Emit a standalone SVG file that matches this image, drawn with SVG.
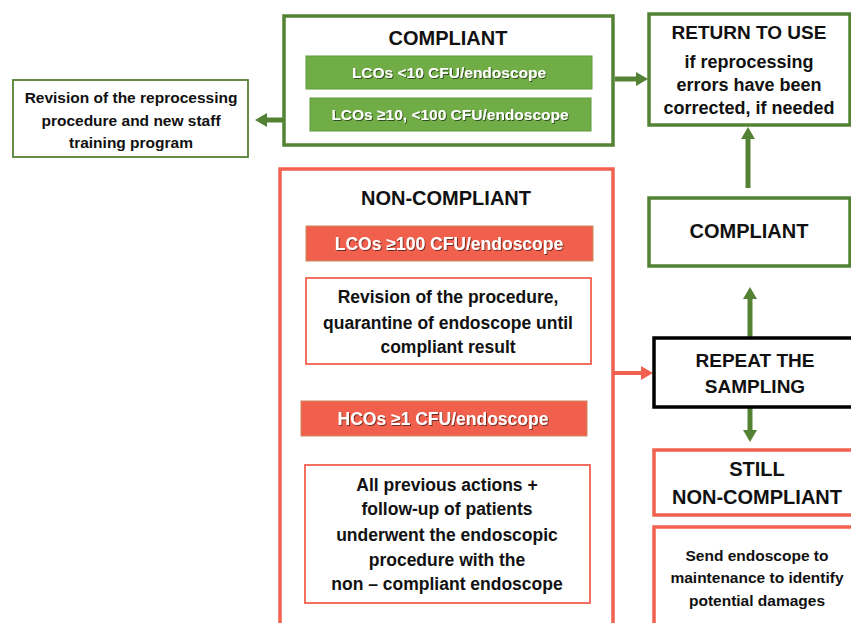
<svg xmlns="http://www.w3.org/2000/svg" width="851" height="623" viewBox="0 0 851 623">
<style>
text{font-family:"Liberation Sans",Arial,sans-serif;font-weight:bold;text-anchor:middle;fill:#111}
.gbox{fill:#fff;stroke:#548235;stroke-width:3.5}
.rbox{fill:#fff;stroke:#F26150;stroke-width:3.5}
.rthin{fill:#fff;stroke:#F26150;stroke-width:1.8}
.kbox{fill:#fff;stroke:#000;stroke-width:3.5}
.gbar{fill:#70AD47;stroke:#5E9A3A;stroke-width:1}
.rbar{fill:#F0604D;stroke:#C98A5E;stroke-width:1}
.wt{fill:#fff;filter:url(#sh)}
.t20{font-size:20px}
.t19{font-size:19px}
.t18{font-size:18px}
.t17{font-size:17.5px}
.t15{font-size:15.5px}
.ga{stroke:#548235;stroke-width:5;fill:none;marker-end:url(#ag)}
.ra{stroke:#F26150;stroke-width:4;fill:none;marker-end:url(#ar)}
</style>
<defs>
<filter id="sh" x="-10%" y="-30%" width="120%" height="160%"><feDropShadow dx="1" dy="1" stdDeviation="0.7" flood-color="#000" flood-opacity="0.55"/></filter>
<marker id="ag" markerUnits="userSpaceOnUse" viewBox="0 0 12 14" markerWidth="12" markerHeight="14" refX="1" refY="7" orient="auto"><path d="M0,0 L12,7 L0,14 z" fill="#548235"/></marker>
<marker id="ar" markerUnits="userSpaceOnUse" viewBox="0 0 12 14" markerWidth="12" markerHeight="14" refX="1" refY="7" orient="auto"><path d="M0,0 L12,7 L0,14 z" fill="#F26150"/></marker>
</defs>
<rect width="851" height="623" fill="#fff"/>

<g id="connectors">
<line class="ga" x1="615" y1="79" x2="637" y2="79"/>
<line class="ga" x1="308" y1="120" x2="266" y2="120"/>
<line class="ga" x1="748" y1="188" x2="748" y2="138"/>
<line class="ga" x1="750" y1="337" x2="750" y2="298"/>
<line class="ga" x1="750" y1="407" x2="750" y2="431"/>
<line class="ra" x1="613" y1="373" x2="642" y2="373"/>
</g>

<g id="compliant-top">
<rect class="gbox" x="284" y="16" width="329" height="129"/>
<text class="t20" x="448" y="45">COMPLIANT</text>
</g>
<g id="lcos-lt10">
<rect class="gbar" x="306" y="56" width="286" height="33"/>
<text class="t15 wt" x="449" y="78">LCOs &lt;10 CFU/endoscope</text>
</g>
<g id="lcos-10-100">
<rect class="gbar" x="310" y="98" width="281" height="33"/>
<text class="t15 wt" x="450" y="120">LCOs ≥10, &lt;100 CFU/endoscope</text>
</g>

<g id="revision-staff">
<rect x="13" y="80" width="235" height="77" fill="#fff" stroke="#548235" stroke-width="1.8"/>
<text class="t15" x="131" y="103">Revision of the reprocessing</text>
<text class="t15" x="131" y="126">procedure and new staff</text>
<text class="t15" x="131" y="148">training program</text>
</g>

<g id="return-to-use">
<rect class="gbox" x="649" y="14" width="201" height="111"/>
<text class="t19" x="749" y="39">RETURN TO USE</text>
<text class="t18" x="749" y="68">if reprocessing</text>
<text class="t18" x="749" y="91">errors have been</text>
<text class="t18" x="749" y="114">corrected, if needed</text>
</g>

<g id="compliant-right">
<rect class="gbox" x="649" y="198" width="201" height="68"/>
<text class="t20" x="749" y="238">COMPLIANT</text>
</g>

<g id="non-compliant">
<rect class="rbox" x="280" y="169" width="333" height="470"/>
<text class="t20" x="446" y="205">NON-COMPLIANT</text>
</g>
<g id="lcos-ge100">
<rect class="rbar" x="306" y="226" width="287" height="35"/>
<text class="t17 wt" x="449" y="250">LCOs ≥100 CFU/endoscope</text>
</g>
<g id="revision-quarantine">
<rect class="rthin" x="306" y="278" width="285" height="86"/>
<text class="t17" x="448" y="303">Revision of the procedure,</text>
<text class="t17" x="448" y="329">quarantine of endoscope until</text>
<text class="t17" x="448" y="353">compliant result</text>
</g>
<g id="hcos-ge1">
<rect class="rbar" x="301" y="401" width="286" height="35"/>
<text class="t17 wt" x="443" y="425">HCOs ≥1 CFU/endoscope</text>
</g>
<g id="all-previous">
<rect class="rthin" x="305" y="465" width="285" height="138"/>
<text class="t17" x="447" y="491">All previous actions +</text>
<text class="t17" x="447" y="515">follow-up of patients</text>
<text class="t17" x="447" y="541">underwent the endoscopic</text>
<text class="t17" x="447" y="566">procedure with the</text>
<text class="t17" x="447" y="590">non – compliant endoscope</text>
</g>

<g id="repeat-sampling">
<rect class="kbox" x="654" y="338" width="205" height="69"/>
<text class="t19" x="755" y="367">REPEAT THE</text>
<text class="t19" x="755" y="393">SAMPLING</text>
</g>

<g id="still-non-compliant">
<rect class="rbox" x="654" y="450" width="205" height="65"/>
<text class="t20" x="757" y="476">STILL</text>
<text class="t20" x="757" y="504">NON-COMPLIANT</text>
</g>

<g id="send-maintenance">
<rect class="rbox" x="654" y="527" width="205" height="110"/>
<text class="t15" x="757" y="561">Send endoscope to</text>
<text class="t15" x="757" y="583">maintenance to identify</text>
<text class="t15" x="757" y="606">potential damages</text>
</g>
</svg>
